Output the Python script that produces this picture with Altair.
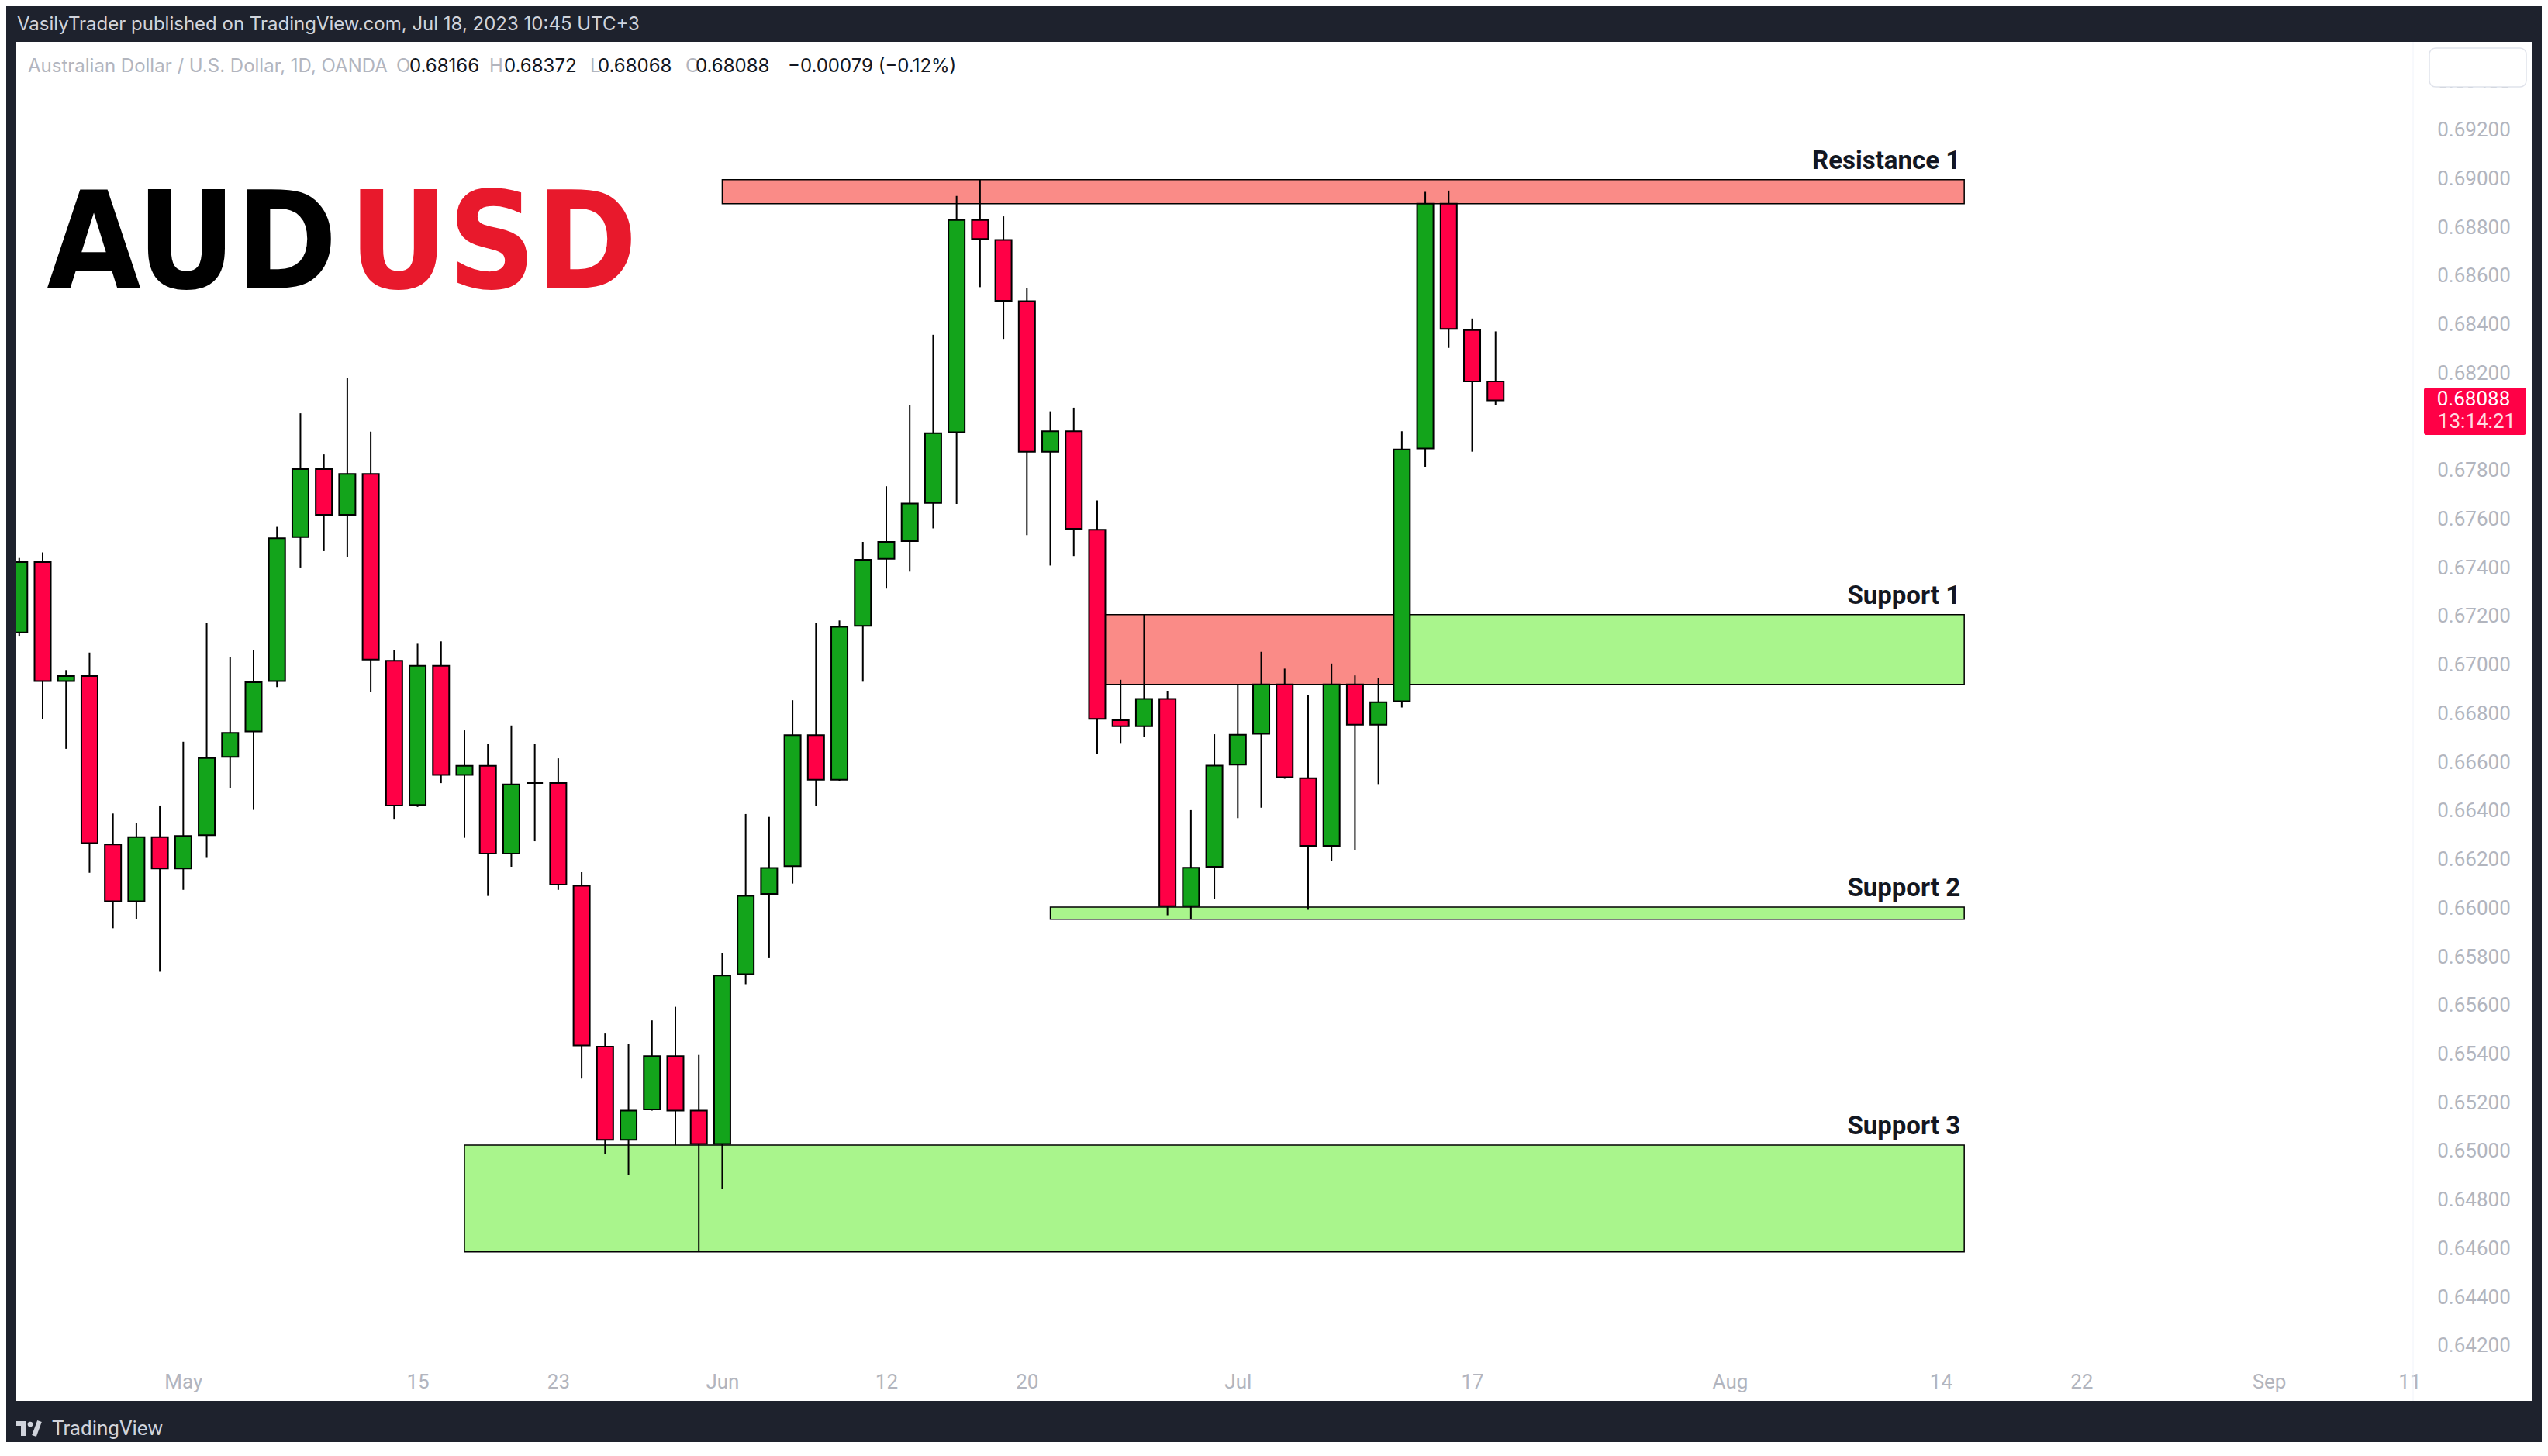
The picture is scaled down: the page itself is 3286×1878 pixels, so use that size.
import json
import altair as alt
import numpy as np
import pandas as pd

# ---------------- data ----------------
dates = [d.strftime("%Y-%m-%d") for d in pd.bdate_range("2023-04-20", "2023-07-18")]

opens = [0.67134, 0.67423, 0.66934, 0.66954, 0.66262, 0.66028, 0.66292,          # Apr 20 - Apr 28
         0.66163, 0.66300, 0.66622, 0.66726, 0.66934, 0.67526, 0.67806, 0.67618,  # May 1 - May 10
         0.67786, 0.67017, 0.66424, 0.66997, 0.66548, 0.66585, 0.66224, 0.66514,  # May 11 - May 22
         0.66514, 0.66092, 0.65430, 0.65047, 0.65172, 0.65391, 0.65167, 0.65030,  # May 23 - Jun 1
         0.65728, 0.66058, 0.66172, 0.66711, 0.66528, 0.67161, 0.67437, 0.67509,  # Jun 2 - Jun 13
         0.67666, 0.67957, 0.68830, 0.68748, 0.68496, 0.67877, 0.67961, 0.67556,  # Jun 14 - Jun 23
         0.66773, 0.66748, 0.66860, 0.66008, 0.66170, 0.66590, 0.66717, 0.66920,  # Jun 26 - Jul 5
         0.66534, 0.66256, 0.66920, 0.66754, 0.66851, 0.67890, 0.68897, 0.68377,  # Jul 6 - Jul 17
         0.68166]                                                                 # Jul 18
highs = [0.67440, 0.67463, 0.66979, 0.67051, 0.66389, 0.66350, 0.66422,
         0.66684, 0.67171, 0.67034, 0.67062, 0.67568, 0.68035, 0.67866, 0.68182,
         0.67960, 0.67062, 0.67087, 0.67097, 0.66731, 0.66677, 0.66751, 0.66677,
         0.66616, 0.66148, 0.65484, 0.65443, 0.65538, 0.65594, 0.65396, 0.65816,
         0.66387, 0.66375, 0.66855, 0.67172, 0.67183, 0.67506, 0.67735, 0.68069,
         0.68358, 0.68929, 0.68996, 0.68845, 0.68552, 0.68043, 0.68058, 0.67677,
         0.66939, 0.67207, 0.66894, 0.66403, 0.66715, 0.66920, 0.67054, 0.66985,
         0.66877, 0.67006, 0.66957, 0.66948, 0.67961, 0.68946, 0.68951, 0.68425,
         0.68372]
lows = [0.67120, 0.66779, 0.66655, 0.66145, 0.65917, 0.65955, 0.65738,
        0.66075, 0.66207, 0.66495, 0.66404, 0.66909, 0.67401, 0.67468, 0.67444,
        0.66889, 0.66364, 0.66416, 0.66514, 0.66289, 0.66050, 0.66170, 0.66275,
        0.66075, 0.65299, 0.64989, 0.64903, 0.65167, 0.65025, 0.64586, 0.64847,
        0.65687, 0.65794, 0.66101, 0.66420, 0.66521, 0.66931, 0.67314, 0.67384,
        0.67562, 0.67662, 0.68554, 0.68341, 0.67534, 0.67409, 0.67448, 0.66633,
        0.66679, 0.66704, 0.65971, 0.65956, 0.66036, 0.66370, 0.66413, 0.66532,
        0.65993, 0.66193, 0.66237, 0.66510, 0.66825, 0.67815, 0.68304, 0.67877,
        0.68068]
closes = [0.67423, 0.66934, 0.66954, 0.66267, 0.66028, 0.66292, 0.66163,
          0.66297, 0.66617, 0.66721, 0.66929, 0.67521, 0.67806, 0.67618, 0.67786,
          0.67022, 0.66422, 0.66997, 0.66548, 0.66585, 0.66224, 0.66509, 0.66514,
          0.66097, 0.65435, 0.65047, 0.65167, 0.65391, 0.65167, 0.65030, 0.65723,
          0.66050, 0.66165, 0.66711, 0.66528, 0.67157, 0.67433, 0.67506, 0.67664,
          0.67953, 0.68830, 0.68752, 0.68498, 0.67877, 0.67961, 0.67560, 0.66778,
          0.66748, 0.66860, 0.66008, 0.66166, 0.66586, 0.66713, 0.66920, 0.66538,
          0.66256, 0.66920, 0.66754, 0.66847, 0.67886, 0.68897, 0.68382, 0.68166,
          0.68088]

tick_dates = ["2023-05-01", "2023-05-15", "2023-05-23", "2023-06-01", "2023-06-12",
              "2023-06-20", "2023-07-03", "2023-07-17", "2023-08-01", "2023-08-14",
              "2023-08-22", "2023-09-01", "2023-09-11"]
tick_labels = ["May", "15", "23", "Jun", "12", "20", "Jul", "17", "Aug", "14", "22", "Sep", "11"]
price_ticks = [0.642, 0.644, 0.646, 0.648, 0.650, 0.652, 0.654, 0.656, 0.658, 0.660,
               0.662, 0.664, 0.666, 0.668, 0.670, 0.672, 0.674, 0.676, 0.678, 0.680,
               0.682, 0.684, 0.686, 0.688, 0.690, 0.692, 0.694]

zone_labels = ["Resistance 1", "Support 1", "Support 1", "Support 2", "Support 3"]
zone_kinds = ["resistance", "resistance", "support", "support", "support"]
zone_start = ["2023-06-01", "2023-06-23", "2023-07-12", "2023-06-21", "2023-05-17"]
zone_end = ["2023-08-15", "2023-07-12", "2023-08-15", "2023-08-15", "2023-08-15"]
zone_top = [0.68996, 0.67207, 0.67207, 0.66004, 0.65025]
zone_bottom = [0.68897, 0.66920, 0.66920, 0.65954, 0.64586]

last_close = closes[-1]
countdown = "13:14:21"

# ---------------- tables ----------------
ORIGIN = "2023-05-01"
candles = pd.DataFrame({
    "date": dates,
    "i": np.busday_count(ORIGIN, dates).astype(int),
    "open": opens, "high": highs, "low": lows, "close": closes,
})
candles["dir"] = np.where(candles["close"] >= candles["open"], "up", "down")

zones = pd.DataFrame({
    "label": zone_labels, "kind": zone_kinds,
    "x0": np.busday_count(ORIGIN, zone_start).astype(int),
    "x1": np.busday_count(ORIGIN, zone_end).astype(int),
    "top": zone_top, "bottom": zone_bottom,
})
zone_text = zones.groupby("label", as_index=False).agg(x1=("x1", "max"), top=("top", "max"))

tick_idx = [int(v) for v in np.busday_count(ORIGIN, tick_dates)]

# ---------------- styling ----------------
DARK = "#1E222D"
GREEN = "#13A41B"
RED = "#FF0046"
ZONE_RED = "#FA8B87"
ZONE_GREEN = "#A9F58C"
AXIS_GREY = "#B2B5BE"
TEXT_DARK = "#131722"

W, H = 3245, 1753
xs = alt.Scale(domain=[-6.993, 100.05], nice=False, zero=False)
ys = alt.Scale(domain=[0.639729, 0.695628], nice=False, zero=False)

label_expr = f"{json.dumps(tick_labels)}[indexof({json.dumps(tick_idx)}, datum.value)]"

x_axis = alt.Axis(values=tick_idx, labelExpr=label_expr, orient="bottom", offset=-25,
                  domain=False, ticks=False, tickSize=0, grid=False, labelPadding=0,
                  labelBaseline="middle", labelFont="Roboto", labelFontSize=26,
                  labelColor=AXIS_GREY, labelFlush=False, labelOverlap=False, title=None)
y_axis = alt.Axis(values=price_ticks, format=".5f", orient="right", offset=-75,
                  domain=False, ticks=False, tickSize=0, grid=False, labelPadding=0,
                  labelAlign="center", labelBaseline="middle", labelFont="Roboto",
                  labelFontSize=26, labelColor=AXIS_GREY, labelOverlap=False, title=None)

dummy = pd.DataFrame({"k": [0]})


def text_at(txt, x, y, size, color, weight="normal", font="Roboto", align="left",
            baseline="alphabetic", **kw):
    return alt.Chart(dummy).mark_text(
        text=txt, align=align, baseline=baseline, font=font, fontSize=size,
        fontWeight=weight, color=color, **kw
    ).encode(x=alt.value(x), y=alt.value(y))


# zones
zone_layer = alt.Chart(zones).mark_rect(stroke="#000000", strokeWidth=1.5).encode(
    x=alt.X("x0:Q", scale=xs, axis=x_axis),
    x2="x1:Q",
    y=alt.Y("top:Q", scale=ys, axis=y_axis),
    y2="bottom:Q",
    fill=alt.Fill("kind:N", scale=alt.Scale(domain=["resistance", "support"],
                                            range=[ZONE_RED, ZONE_GREEN]), legend=None),
)

wicks = alt.Chart(candles).mark_rule(color="#000000", strokeWidth=2, clip=True).encode(
    x=alt.X("i:Q", scale=xs), y=alt.Y("low:Q", scale=ys), y2="high:Q")

bodies = alt.Chart(candles).mark_bar(size=21, stroke="#000000", strokeWidth=2, clip=True).encode(
    x=alt.X("i:Q", scale=xs), y=alt.Y("open:Q", scale=ys), y2="close:Q",
    fill=alt.Fill("dir:N", scale=alt.Scale(domain=["up", "down"], range=[GREEN, RED]), legend=None),
)

zone_names = alt.Chart(zone_text).mark_text(
    align="right", baseline="alphabetic", dx=-5, dy=-14, font="Roboto", fontSize=33,
    fontWeight="bold", color=TEXT_DARK
).encode(x=alt.X("x1:Q", scale=xs), y=alt.Y("top:Q", scale=ys), text="label:N")

# price tag on the price scale
tag = alt.Chart(dummy).mark_rect(color=RED, cornerRadius=3, yOffset=-16.5, y2Offset=44.5).encode(
    x=alt.value(3106), x2=alt.value(3238), y=alt.datum(last_close), y2=alt.datum(last_close))
tag_price = alt.Chart(dummy).mark_text(
    text=f"{last_close:.5f}", align="center", baseline="middle", dy=-1, font="Roboto",
    fontSize=26, color="#FFFFFF").encode(x=alt.value(3170), y=alt.datum(last_close))
tag_time = alt.Chart(dummy).mark_text(
    text=countdown, align="center", baseline="middle", dy=27.5, font="Roboto",
    fontSize=26, color="#FFFFFF", opacity=0.85).encode(x=alt.value(3174), y=alt.datum(last_close))

# top-right empty button
button = alt.Chart(dummy).mark_rect(fill="#FFFFFF", stroke="#E0E3EB", strokeWidth=1.5,
                                    cornerRadius=8).encode(
    x=alt.value(3113), x2=alt.value(3238), y=alt.value(8), y2=alt.value(58))

separator = alt.Chart(dummy).mark_rule(color="#F0F3FA", strokeWidth=1).encode(
    x=alt.value(3092), y=alt.value(0), y2=alt.value(H))

# big pair title
TITLE_FONT = "Liberation Sans Narrow, DejaVu Sans Condensed, Liberation Sans"
TS = 175
title_layers = [
    text_at("AUD", 415, 318, TS, "#000000", weight="bold", font=TITLE_FONT, align="right"),
    text_at("USD", 430, 318, TS, "#E8192C", weight="bold", font=TITLE_FONT, align="left"),
]

# header rows
GREY2 = "#B2B5BE"
HF = 24
header = [
    text_at("VasilyTrader published on TradingView.com, Jul 18, 2023 10:45 UTC+3", 2, -15, HF,
            "#D1D4DC", font="Inter"),
    text_at("Australian Dollar / U.S. Dollar, 1D, OANDA", 16, 39, HF, GREY2, font="Inter"),
    text_at("O", 491, 39, HF, GREY2, font="Inter"),
    text_at(f"{opens[-1]:.5f}", 508, 39, HF, TEXT_DARK, font="Inter"),
    text_at("H", 611, 39, HF, GREY2, font="Inter"),
    text_at(f"{highs[-1]:.5f}", 630, 39, HF, TEXT_DARK, font="Inter"),
    text_at("L", 741, 39, HF, GREY2, font="Inter"),
    text_at(f"{lows[-1]:.5f}", 751, 39, HF, TEXT_DARK, font="Inter"),
    text_at("C", 864, 39, HF, GREY2, font="Inter"),
    text_at(f"{closes[-1]:.5f}", 877, 39, HF, TEXT_DARK, font="Inter"),
    text_at("\u22120.00079 (\u22120.12%)", 996, 39, HF, TEXT_DARK, font="Inter"),
]

# footer logo + name
LOGO = "#D1D4DC"
footer = [
    alt.Chart(dummy).mark_rect(color=LOGO).encode(x=alt.value(0), x2=alt.value(13),
                                                  y=alt.value(1779), y2=alt.value(1785)),
    alt.Chart(dummy).mark_rect(color=LOGO).encode(x=alt.value(7), x2=alt.value(13),
                                                  y=alt.value(1779), y2=alt.value(1798)),
    alt.Chart(dummy).mark_point(color=LOGO, filled=True, opacity=1, size=45).encode(
        x=alt.value(19), y=alt.value(1783)),
    alt.Chart(dummy).mark_rule(color=LOGO, strokeWidth=6).encode(
        x=alt.value(24), x2=alt.value(31), y=alt.value(1798), y2=alt.value(1779)),
    text_at("TradingView", 47, 1789, 26, LOGO, font="Roboto", baseline="middle"),
]

chart = alt.layer(
    zone_layer, wicks, bodies, zone_names, separator, button, tag, tag_price, tag_time,
    *title_layers, *header, *footer
).resolve_scale(
    fill="independent"
).properties(
    width=W, height=H,
    autosize=alt.AutoSizeParams(type="none"),
    padding={"left": 12, "top": 46, "right": 13, "bottom": 53},
    background=DARK,
).configure_view(fill="#FFFFFF", strokeWidth=0)

chart.save("out.html", embed_options={"renderer": "svg", "actions": False})
